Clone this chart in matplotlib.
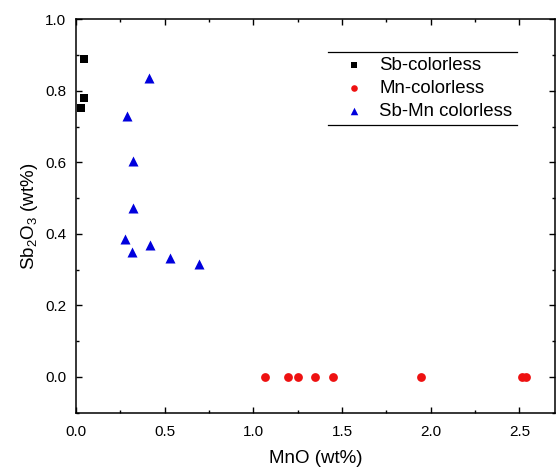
import matplotlib
matplotlib.use("Agg")
import matplotlib.pyplot as plt
from matplotlib.ticker import MultipleLocator, FormatStrFormatter
from matplotlib.lines import Line2D

plt.rcParams['font.family'] = ['Liberation Sans', 'DejaVu Sans']
plt.rcParams['mathtext.default'] = 'regular'

# Data
sb_x = [0.045, 0.045, 0.028]
sb_y = [0.888, 0.779, 0.752]

mn_x = [1.064, 1.194, 1.254, 1.345, 1.450, 1.947, 2.512, 2.536]
mn_y = [0.0, 0.0, 0.0, 0.0, 0.0, 0.0, 0.0, 0.0]

sbmn_x = [0.414, 0.290, 0.322, 0.320, 0.275, 0.316, 0.418, 0.531, 0.691]
sbmn_y = [0.837, 0.730, 0.603, 0.473, 0.385, 0.350, 0.368, 0.333, 0.315]

labels = ["Sb-colorless", "Mn-colorless", "Sb-Mn colorless"]

fig = plt.figure(figsize=(5.56, 4.70), dpi=100)
ax = fig.add_axes([0.1367, 0.1219, 0.8613, 0.8372])

ax.scatter(sb_x, sb_y, marker='s', s=38, color='black', label=labels[0], linewidths=0, clip_on=False, zorder=3)
ax.scatter(mn_x, mn_y, marker='o', s=40, color='#ee1111', label=labels[1], linewidths=0, zorder=3)
ax.scatter(sbmn_x, sbmn_y, marker='^', s=52, color='#0000dd', label=labels[2], linewidths=0, zorder=3)

ax.set_xlim(0, 2.7)
ax.set_ylim(-0.1, 1.0)
ax.xaxis.set_major_locator(MultipleLocator(0.5))
ax.xaxis.set_minor_locator(MultipleLocator(0.25))
ax.yaxis.set_major_locator(MultipleLocator(0.2))
ax.yaxis.set_minor_locator(MultipleLocator(0.1))
ax.xaxis.set_major_formatter(FormatStrFormatter('%.1f'))
ax.yaxis.set_major_formatter(FormatStrFormatter('%.1f'))

ax.tick_params(which='both', direction='in', top=True, right=True, labelsize=11, width=1.0)
ax.tick_params(axis='x', which='major', pad=9)
ax.tick_params(axis='y', which='major', pad=7)
ax.tick_params(which='major', length=4.5)
ax.tick_params(which='minor', length=2.2)
for sp in ax.spines.values():
    sp.set_linewidth(1.1)

ax.set_xlabel("MnO (wt%)", fontsize=13.5, labelpad=8)
ax.set_ylabel("Sb$_2$O$_3$ (wt%)", fontsize=13.5, labelpad=4)

leg = ax.legend(loc='upper left', bbox_to_anchor=(0.526, 0.9166), borderaxespad=0, frameon=False,
                fontsize=13.4, handletextpad=0.2, labelspacing=0.33, borderpad=0.25,
                handlelength=2.3, markerscale=0.75)

fig.canvas.draw()
bb = leg.get_window_extent().transformed(fig.transFigure.inverted())
for yy in (bb.y0, bb.y1):
    fig.add_artist(Line2D([bb.x0, bb.x1], [yy, yy], transform=fig.transFigure, color='black', linewidth=0.9))

fig.savefig("out.png", dpi=100)
